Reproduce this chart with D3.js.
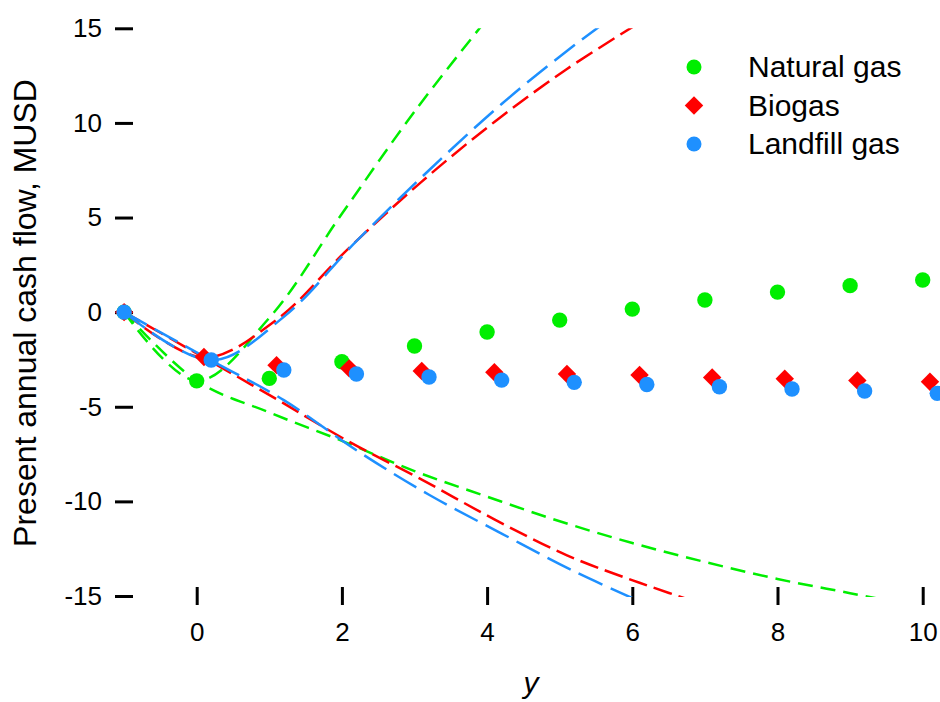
<!DOCTYPE html>
<html lang="en">
<head>
    <meta charset="UTF-8">
    <title>Present annual cash flow</title>
    <style>
        body {
            margin: 0;
            background-color: #fff;
        }
        svg {
            display: block;
            font-family: "Liberation Sans", Arial, sans-serif;
        }
        .axis path.domain {
            display: none;
        }
        .axis line {
            stroke: #000;
            stroke-width: 3;
        }
        .axis text {
            font-size: 26px;
            fill: #000;
        }
    </style>
    <script src="https://d3js.org/d3.v7.min.js"></script>
</head>
<body>
    <div id="chart"></div>
    <script>
        // Series names and colours
        const seriesNames = ["Natural gas", "Biogas", "Landfill gas"];
        const seriesColors = ["#00ee00", "#ff0000", "#1e90ff"];

        // Years (points of each series are shifted a little so they don't overlap)
        const gasYears = [-1, 0, 1, 2, 3, 4, 5, 6, 7, 8, 9, 10];
        const bioYears = [-1, 0.1, 1.1, 2.1, 3.1, 4.1, 5.1, 6.1, 7.1, 8.1, 9.1, 10.1];
        const landYears = [-1, 0.2, 1.2, 2.2, 3.2, 4.2, 5.2, 6.2, 7.2, 8.2, 9.2, 10.2];

        // Present annual cash flow, MUSD
        const gasValues = [0, -3.63, -3.5, -2.62, -1.79, -1.05, -0.42, 0.16, 0.64, 1.06, 1.4, 1.7];
        const bioValues = [0, -2.37, -2.8, -2.97, -3.11, -3.18, -3.27, -3.32, -3.45, -3.52, -3.61, -3.68];
        const landValues = [0, -2.53, -3.06, -3.27, -3.43, -3.59, -3.71, -3.82, -3.94, -4.06, -4.17, -4.29];

        // Dashed upper / lower bounds
        const gasUpper = [0, -3.63, -0.3, 5.2, 10.6, 15.5];
        const gasLower = [0, -3.63, -5.3, -6.8, -8.4, -9.75, -11.05, -12.2, -13.2, -14.1, -14.85, -15.6];
        const bioUpper = [0, -2.4, -0.4, 3.4, 6.9, 10.05, 12.85, 15.3];
        const bioLower = [0, -2.4, -4.6, -6.85, -8.85, -10.95, -12.85, -14.3, -15.6];
        const landUpper = [0, -2.55, -0.25, 3.75, 7.5, 11.0, 14.1, 16.9];
        const landLower = [0, -2.55, -4.65, -7.3, -9.65, -11.7, -13.7, -15.45];

        const xTicks = [0, 2, 4, 6, 8, 10];
        const yTicks = [-15, -10, -5, 0, 5, 10, 15];

        const width = 940;
        const height = 702;

        const x = d3.scaleLinear().domain([-1, 10]).range([124.1, 922.7]);
        const y = d3.scaleLinear().domain([-15, 15]).range([596, 28.3]);

        const svg = d3.select('#chart').append('svg')
            .attr('width', width)
            .attr('height', height);

        svg.append('defs').append('clipPath')
            .attr('id', 'plot-clip')
            .append('rect')
            .attr('x', 0)
            .attr('y', y(15))
            .attr('width', width)
            .attr('height', y(-15) - y(15) + 1);

        // axes
        svg.append('g')
            .attr('class', 'axis')
            .attr('transform', 'translate(133,0)')
            .call(d3.axisLeft(y).tickValues(yTicks).tickSize(18).tickPadding(13)
                .tickFormat(d => String(d)));

        svg.append('g')
            .attr('class', 'axis')
            .attr('transform', 'translate(0,587)')
            .call(d3.axisBottom(x).tickValues(xTicks).tickSize(18).tickPadding(18)
                .tickFormat(d => String(d)));

        svg.append('text')
            .attr('x', 531)
            .attr('y', 693)
            .attr('text-anchor', 'middle')
            .attr('font-size', 30)
            .attr('font-style', 'italic')
            .text('y');

        svg.append('text')
            .attr('transform', 'translate(36,313) rotate(-90)')
            .attr('text-anchor', 'middle')
            .attr('font-size', 32)
            .text('Present annual cash flow, MUSD');

        // dashed bounds
        const bounds = [
            { xs: gasYears, ys: gasUpper, color: seriesColors[0], dash: '15,8' },
            { xs: gasYears, ys: gasLower, color: seriesColors[0], dash: '15,8' },
            { xs: bioYears, ys: bioUpper, color: seriesColors[1], dash: '19,7' },
            { xs: bioYears, ys: bioLower, color: seriesColors[1], dash: '19,7' },
            { xs: landYears, ys: landUpper, color: seriesColors[2], dash: '26,9' },
            { xs: landYears, ys: landLower, color: seriesColors[2], dash: '26,9' }
        ];

        const line = d3.line()
            .x(d => x(d[0]))
            .y(d => y(d[1]))
            .curve(d3.curveCatmullRom.alpha(0.5));

        svg.append('g')
            .attr('clip-path', 'url(#plot-clip)')
            .selectAll('path')
            .data(bounds)
            .enter().append('path')
            .attr('d', b => line(b.ys.map((v, i) => [b.xs[i], v])))
            .attr('fill', 'none')
            .attr('stroke', b => b.color)
            .attr('stroke-width', 2.5)
            .attr('stroke-dasharray', b => b.dash);

        // points
        const diamond = d3.symbol().type(d3.symbolSquare).size(170);

        svg.append('g')
            .selectAll('circle')
            .data(gasValues.map((v, i) => [gasYears[i], v]))
            .enter().append('circle')
            .attr('cx', d => x(d[0]))
            .attr('cy', d => y(d[1]))
            .attr('r', 7.7)
            .attr('fill', seriesColors[0]);

        svg.append('g')
            .selectAll('path')
            .data(bioValues.map((v, i) => [bioYears[i], v]))
            .enter().append('path')
            .attr('d', diamond)
            .attr('transform', d => `translate(${x(d[0])},${y(d[1])}) rotate(45)`)
            .attr('fill', seriesColors[1]);

        svg.append('g')
            .selectAll('circle')
            .data(landValues.map((v, i) => [landYears[i], v]))
            .enter().append('circle')
            .attr('cx', d => x(d[0]))
            .attr('cy', d => y(d[1]))
            .attr('r', 7.7)
            .attr('fill', seriesColors[2]);

        // legend
        const legend = svg.append('g')
            .selectAll('g')
            .data(seriesNames)
            .enter().append('g')
            .attr('transform', (d, i) => `translate(694,${67 + i * 38.5})`);

        legend.each(function(d, i) {
            const g = d3.select(this);
            if (i === 1) {
                g.append('path')
                    .attr('d', diamond)
                    .attr('transform', 'rotate(45)')
                    .attr('fill', seriesColors[i]);
            } else {
                g.append('circle')
                    .attr('r', 7.5)
                    .attr('fill', seriesColors[i]);
            }
            g.append('text')
                .attr('x', 54)
                .attr('y', 10)
                .attr('font-size', 30)
                .text(d);
        });
    </script>
</body>
</html>
